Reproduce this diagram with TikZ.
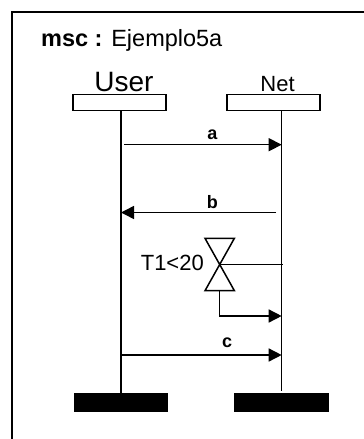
\documentclass[tikz,border=0pt]{standalone}
\usepackage{fontspec}
\setmainfont{Liberation Sans}
\usetikzlibrary{arrows.meta,positioning,calc}

\begin{document}
\begin{tikzpicture}[x=1pt,y=-1pt,
    head/.style={draw,line width=1.5pt,minimum width=93pt,minimum height=16pt,inner sep=0pt},
    endbar/.style={fill=black,minimum width=94pt,minimum height=18.5pt,inner sep=0pt},
    life/.style={line width=1.5pt},
    msg/.style={line width=1.5pt,-{Triangle[length=13pt,width=13pt]}},
    lbl/.style={font=\fontsize{18}{18}\selectfont\bfseries,inner sep=0pt},
    >=Latex
  ]
    \useasboundingbox (0,0) rectangle (364,439);
    \draw[line width=2pt] (11.5,439) -- (11.5,11.5) -- (364,11.5);
    \node[anchor=base west,inner sep=0pt,font=\fontsize{23.5}{23.5}\selectfont] (title) at (41,46) {\textbf{msc :} Ejemplo5a};

    % instance heads
    \node[head] (user) at (119.5,102.5) {};
    \node[head] (net) at (273.7,102.5) {};
    \node[anchor=base,inner sep=0pt,font=\fontsize{28}{28}\selectfont] (userlbl) at (124,91) {User};
    \node[anchor=base,inner sep=0pt,font=\fontsize{22}{22}\selectfont] (netlbl) at (277.5,91) {Net};

    % instance ends
    \node[endbar,anchor=north] (userend) at (121,393) {};
    \node[endbar,anchor=north,minimum width=95pt] (netend) at (281.7,393) {};
    \coordinate (netstop) at (281.7,391);
    \draw[life] (user.south -| userend.north) -- (userend.north);
    \draw[life] (net.south -| netstop) -- (netstop);

    % messages
    \coordinate (a0) at (124,144.7);
    \coordinate (a1) at (281.7,144.7);
    \coordinate (b0) at (276,212.5);
    \coordinate (b1) at (121,212.5);
    \coordinate (c0) at (121,355);
    \coordinate (c1) at (281.7,355);
    \draw[msg] (a0) -- node[lbl,pos=0.56,above=4pt] {a} (a1);
    \draw[msg] (b0) -- node[lbl,pos=0.41,above=2.6pt] {b} (b1);
    \draw[msg] (c0) -- node[lbl,pos=0.66,above=6.7pt] {c} (c1);

    % timer
    \coordinate (timer) at (219.7,264.5);
    \coordinate (tset) at (283.3,264.5);
    \coordinate (tbot) at (219.7,290.7);
    \coordinate (tout) at (281.7,316);
    \draw[life] ($(timer)+(-14.7,-26.2)$) -- ++(29.4,0) -- (tbot -| 205,0) -- ++(29.4,0) -- cycle;
    \draw[life] (timer) -- (tset);
    \draw[msg] (tbot) |- (tout);
    \node[anchor=base east,inner sep=0pt,font=\fontsize{22}{22}\selectfont] (tlbl) at (204,270.5) {T1<20};
  \end{tikzpicture}
\end{document}
